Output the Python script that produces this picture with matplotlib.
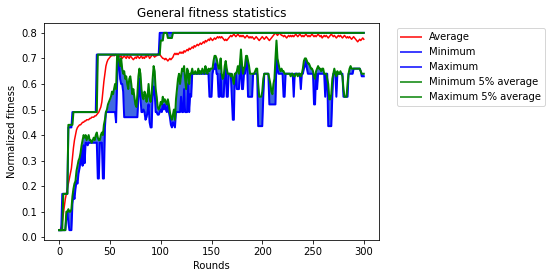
import matplotlib
matplotlib.use("Agg")
import matplotlib.pyplot as plt
import numpy as np

rounds = list(range(301))

maximum = ([0.028] * 3 + [0.17] * 6 + [0.43] * 4 + [0.49] * 24 + [0.715] * 62 + [0.80] * 202)

max5_avg = ([0.028] * 4 + [0.17] * 5 + [0.44] * 5 + [0.49] * 24 + [0.715] * 62
            + [0.77] * 3 + [0.80] * 4 + [0.78] * 5 + [0.80] * 189)

average = [
    0.028, 0.03, 0.04, 0.06, 0.09, 0.12, 0.15, 0.17, 0.19, 0.21,
    0.23, 0.25, 0.27, 0.31, 0.35, 0.38, 0.40, 0.42, 0.43, 0.435,
    0.44, 0.44, 0.445, 0.45, 0.45, 0.455, 0.455, 0.46, 0.46, 0.46,
    0.465, 0.465, 0.47, 0.47, 0.47, 0.475, 0.475, 0.48, 0.485, 0.49,
    0.50, 0.51, 0.53, 0.57, 0.61, 0.64, 0.67, 0.685, 0.695, 0.70,
    0.705, 0.71, 0.71, 0.715, 0.71, 0.715, 0.715, 0.71, 0.715, 0.71,
    0.705, 0.71, 0.70, 0.705, 0.71, 0.705, 0.70, 0.71, 0.705, 0.70,
    0.71, 0.705, 0.70, 0.695, 0.70, 0.705, 0.70, 0.71, 0.705, 0.70,
    0.705, 0.71, 0.70, 0.705, 0.70, 0.71, 0.705, 0.715, 0.71, 0.70,
    0.705, 0.71, 0.715, 0.71, 0.705, 0.71, 0.71, 0.715, 0.72, 0.715,
    0.71, 0.705, 0.70, 0.70, 0.695, 0.70, 0.695, 0.69, 0.695, 0.70,
    0.695, 0.70, 0.705, 0.715, 0.72, 0.715, 0.72, 0.715, 0.72, 0.725,
    0.72, 0.725, 0.72, 0.73, 0.725, 0.73, 0.735, 0.73, 0.74, 0.735,
    0.74, 0.745, 0.74, 0.75, 0.745, 0.75, 0.755, 0.75, 0.755, 0.76,
    0.755, 0.76, 0.765, 0.76, 0.77, 0.765, 0.77, 0.775, 0.77, 0.78,
    0.775, 0.77, 0.775, 0.78, 0.775, 0.78, 0.785, 0.78, 0.785, 0.78,
    0.785, 0.78, 0.775, 0.77, 0.775, 0.77, 0.775, 0.78, 0.785, 0.79,
    0.785, 0.79, 0.795, 0.79, 0.785, 0.79, 0.795, 0.79, 0.785, 0.79,
    0.785, 0.79, 0.785, 0.78, 0.785, 0.79, 0.785, 0.78, 0.785, 0.78,
    0.785, 0.78, 0.775, 0.78, 0.785, 0.78, 0.775, 0.77, 0.775, 0.78,
    0.785, 0.78, 0.775, 0.78, 0.785, 0.78, 0.775, 0.77, 0.775, 0.78,
    0.785, 0.79, 0.795, 0.80, 0.795, 0.79, 0.795, 0.80, 0.795, 0.79,
    0.79, 0.785, 0.79, 0.785, 0.78, 0.785, 0.79, 0.785, 0.79, 0.785,
    0.79, 0.785, 0.79, 0.795, 0.79, 0.785, 0.79, 0.795, 0.79, 0.785,
    0.79, 0.785, 0.79, 0.795, 0.79, 0.785, 0.79, 0.785, 0.79, 0.795,
    0.79, 0.785, 0.79, 0.785, 0.79, 0.795, 0.79, 0.785, 0.79, 0.78,
    0.785, 0.79, 0.785, 0.79, 0.785, 0.78, 0.785, 0.79, 0.795, 0.79,
    0.785, 0.79, 0.785, 0.78, 0.785, 0.79, 0.785, 0.79, 0.785, 0.78,
    0.785, 0.79, 0.785, 0.78, 0.785, 0.78, 0.785, 0.78, 0.775, 0.78,
    0.785, 0.78, 0.775, 0.77, 0.765, 0.77, 0.775, 0.77, 0.775, 0.78,
    0.775,
]

min5_avg = [
    0.028, 0.028, 0.028, 0.028, 0.028, 0.028, 0.028, 0.10, 0.10, 0.11,
    0.10, 0.10, 0.11, 0.16, 0.19, 0.21, 0.22, 0.26, 0.28, 0.30,
    0.31, 0.33, 0.36, 0.38, 0.40, 0.39, 0.40, 0.38, 0.39, 0.40,
    0.38, 0.38, 0.37, 0.38, 0.39, 0.38, 0.40, 0.41, 0.39, 0.38,
    0.38, 0.40, 0.41, 0.40, 0.44, 0.46, 0.49, 0.50, 0.52, 0.53,
    0.54, 0.55, 0.57, 0.56, 0.58, 0.60, 0.58, 0.71, 0.71, 0.69,
    0.67, 0.70, 0.66, 0.64, 0.65, 0.62, 0.63, 0.60, 0.58, 0.62,
    0.63, 0.60, 0.56, 0.58, 0.55, 0.52, 0.51, 0.56, 0.63, 0.66,
    0.64, 0.58, 0.55, 0.54, 0.57, 0.56, 0.53, 0.55, 0.60, 0.55,
    0.53, 0.56, 0.62, 0.67, 0.65, 0.58, 0.55, 0.51, 0.50, 0.51,
    0.53, 0.52, 0.55, 0.53, 0.54, 0.53, 0.52, 0.54, 0.52, 0.49,
    0.47, 0.46, 0.48, 0.50, 0.46, 0.54, 0.58, 0.62, 0.64, 0.60,
    0.63, 0.66, 0.65, 0.67, 0.62, 0.58, 0.66, 0.65, 0.60, 0.64,
    0.64, 0.66, 0.64, 0.64, 0.65, 0.64, 0.64, 0.66, 0.64, 0.65,
    0.64, 0.66, 0.65, 0.64, 0.67, 0.65, 0.64, 0.66, 0.65, 0.66,
    0.66, 0.66, 0.69, 0.71, 0.71, 0.70, 0.68, 0.66, 0.66, 0.70,
    0.64, 0.62, 0.63, 0.67, 0.69, 0.66, 0.64, 0.64, 0.64, 0.63,
    0.64, 0.62, 0.60, 0.64, 0.64, 0.65, 0.67, 0.64, 0.68, 0.735,
    0.68, 0.64, 0.66, 0.67, 0.71, 0.71, 0.69, 0.67, 0.64, 0.64,
    0.64, 0.64, 0.64, 0.65, 0.66, 0.66, 0.60, 0.55, 0.55, 0.55,
    0.57, 0.62, 0.64, 0.64, 0.64, 0.64, 0.64, 0.62, 0.60, 0.57,
    0.56, 0.60, 0.62, 0.70, 0.77, 0.70, 0.68, 0.66, 0.65, 0.66,
    0.65, 0.65, 0.64, 0.64, 0.64, 0.64, 0.64, 0.64, 0.63, 0.64,
    0.64, 0.63, 0.63, 0.64, 0.64, 0.63, 0.64, 0.64, 0.63, 0.64,
    0.66, 0.69, 0.70, 0.70, 0.69, 0.68, 0.68, 0.67, 0.66, 0.66,
    0.65, 0.63, 0.62, 0.65, 0.66, 0.67, 0.66, 0.66, 0.65, 0.66,
    0.66, 0.64, 0.64, 0.64, 0.62, 0.60, 0.54, 0.54, 0.56, 0.62,
    0.64, 0.66, 0.64, 0.63, 0.65, 0.64, 0.64, 0.65, 0.64, 0.63,
    0.58, 0.55, 0.55, 0.55, 0.60, 0.64, 0.66, 0.67, 0.66, 0.66,
    0.66, 0.66, 0.66, 0.66, 0.66, 0.66, 0.66, 0.65, 0.64, 0.64,
    0.64,
]

minimum = [
    0.028, 0.028, 0.028, 0.028, 0.028, 0.028, 0.028, 0.08, 0.10, 0.06,
    0.028, 0.028, 0.028, 0.13, 0.17, 0.15, 0.19, 0.22, 0.21, 0.25,
    0.27, 0.30, 0.34, 0.28, 0.36, 0.29, 0.37, 0.37, 0.36, 0.37,
    0.37, 0.37, 0.37, 0.37, 0.37, 0.37, 0.37, 0.37, 0.23, 0.23,
    0.37, 0.37, 0.37, 0.23, 0.23, 0.43, 0.49, 0.49, 0.49, 0.49,
    0.49, 0.49, 0.49, 0.49, 0.49, 0.49, 0.45, 0.60, 0.71, 0.69,
    0.62, 0.60, 0.60, 0.57, 0.47, 0.47, 0.47, 0.47, 0.47, 0.47,
    0.47, 0.47, 0.47, 0.47, 0.47, 0.47, 0.47, 0.47, 0.55, 0.62,
    0.55, 0.49, 0.49, 0.50, 0.49, 0.46, 0.47, 0.49, 0.52, 0.45,
    0.43, 0.43, 0.55, 0.59, 0.57, 0.49, 0.49, 0.48, 0.48, 0.49,
    0.50, 0.49, 0.52, 0.50, 0.52, 0.50, 0.49, 0.52, 0.49, 0.47,
    0.44, 0.43, 0.45, 0.44, 0.43, 0.49, 0.49, 0.49, 0.49, 0.49,
    0.55, 0.49, 0.49, 0.58, 0.49, 0.49, 0.49, 0.60, 0.49, 0.56,
    0.55, 0.64, 0.64, 0.64, 0.64, 0.64, 0.64, 0.64, 0.64, 0.64,
    0.64, 0.64, 0.64, 0.64, 0.64, 0.64, 0.64, 0.64, 0.55, 0.55,
    0.55, 0.64, 0.66, 0.66, 0.68, 0.64, 0.64, 0.55, 0.55, 0.64,
    0.55, 0.55, 0.55, 0.64, 0.67, 0.55, 0.55, 0.64, 0.64, 0.64,
    0.55, 0.46, 0.46, 0.64, 0.64, 0.58, 0.58, 0.58, 0.64, 0.70,
    0.58, 0.58, 0.64, 0.64, 0.70, 0.69, 0.55, 0.55, 0.55, 0.55,
    0.55, 0.64, 0.64, 0.64, 0.64, 0.64, 0.435, 0.435, 0.435, 0.435,
    0.435, 0.55, 0.64, 0.64, 0.64, 0.64, 0.64, 0.52, 0.52, 0.52,
    0.52, 0.52, 0.52, 0.52, 0.70, 0.66, 0.64, 0.64, 0.64, 0.64,
    0.64, 0.55, 0.55, 0.64, 0.64, 0.64, 0.64, 0.64, 0.64, 0.64,
    0.64, 0.55, 0.64, 0.64, 0.64, 0.64, 0.64, 0.64, 0.58, 0.64,
    0.64, 0.66, 0.67, 0.69, 0.66, 0.64, 0.64, 0.64, 0.64, 0.64,
    0.64, 0.52, 0.52, 0.64, 0.58, 0.64, 0.64, 0.64, 0.64, 0.64,
    0.64, 0.64, 0.55, 0.64, 0.64, 0.435, 0.435, 0.435, 0.435, 0.55,
    0.64, 0.64, 0.64, 0.55, 0.64, 0.64, 0.64, 0.64, 0.64, 0.64,
    0.55, 0.55, 0.55, 0.55, 0.55, 0.64, 0.64, 0.64, 0.64, 0.64,
    0.66, 0.66, 0.66, 0.66, 0.66, 0.66, 0.66, 0.65, 0.63, 0.63,
    0.63,
]

fig = plt.figure(figsize=(552 / 72, 278 / 72), dpi=72)
ax = fig.add_axes([44 / 552, 1 - 240 / 278, 335 / 552, 217 / 278])

ax.fill_between(rounds, minimum, min5_avg, color="royalblue", linewidth=0)
ax.fill_between(rounds, max5_avg, maximum, color="royalblue", linewidth=0)
ax.plot(rounds, average, color="red", lw=1.5, label="Average")
ax.plot(rounds, minimum, color="blue", lw=2, label="Minimum")
ax.plot(rounds, maximum, color="blue", lw=2, label="Maximum")
ax.plot(rounds, min5_avg, color="green", lw=2, label="Minimum 5% average")
ax.plot(rounds, max5_avg, color="green", lw=2, label="Maximum 5% average")

ax.set_title("General fitness statistics")
ax.set_xlabel("Rounds")
ax.set_ylabel("Normalized fitness")
ax.set_xticks([0, 50, 100, 150, 200, 250, 300])
ax.set_yticks([0.0, 0.1, 0.2, 0.3, 0.4, 0.5, 0.6, 0.7, 0.8])
leg = ax.legend(loc="upper left", bbox_to_anchor=(1.04, 1))
for h in leg.get_lines():
    h.set_alpha(0.75)
    h.set_linewidth(2)

fig.savefig("out.png", dpi=72)
